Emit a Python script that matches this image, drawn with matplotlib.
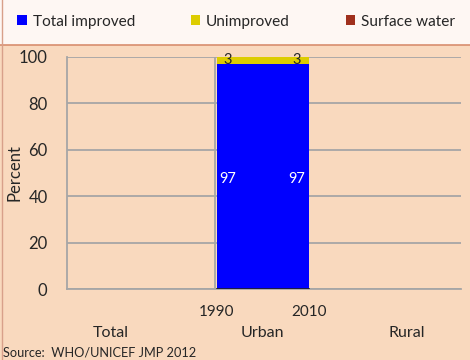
import numpy as np
import matplotlib.pyplot as plt
from matplotlib.patches import Rectangle
from matplotlib.lines import Line2D
import matplotlib.transforms as mtransforms

plt.rcParams['font.family'] = ['Lato', 'DejaVu Sans']

# data
groups = ['Total', 'Urban', 'Rural']
years = ['1990', '2010']
improved = [97, 97]      # Urban only
unimproved = [3, 3]
surface = [0, 0]
source = 'Source:  WHO/UNICEF JMP 2012'

c_imp = '#0000FF'
c_unimp = '#DDCC00'
c_surf = '#A0301C'
bg = '#F9D9BE'
grid_c = '#A6A6A6'
txt = '#262626'

fig = plt.figure(figsize=(4.7, 3.6), dpi=100)
fig.patch.set_facecolor(bg)

# top band with legend
fig.patches.append(Rectangle((0, 0.875), 1, 0.125, transform=fig.transFigure,
                             facecolor='#FEF7F3', edgecolor='none', zorder=0))
fig.lines.append(Line2D([0, 1], [0.875, 0.875], transform=fig.transFigure,
                        color='#D88E6E', lw=1.2))
fig.lines.append(Line2D([0.005, 0.005], [0, 1], transform=fig.transFigure,
                        color='#D8A08A', lw=1.0))

ax = fig.add_axes([0.1426, 0.1972, 0.981 - 0.1426, 0.8417 - 0.1972])
ax.set_facecolor(bg)

w = 0.35
xpos = np.array([1.5 - w / 2, 1.5 + w / 2]) - 0.01
b1 = ax.bar(xpos, improved, width=w, color=c_imp, zorder=3, label='Total improved')
b2 = ax.bar(xpos, unimproved, bottom=improved, width=w, color=c_unimp, zorder=3,
            label='Unimproved')
bottoms = np.array(improved) + np.array(unimproved)
b3 = ax.bar(xpos, surface, bottom=bottoms, width=w, color=c_surf, zorder=3,
            label='Surface water')

# value labels
offs = [-0.09, 0.08]
for i in range(2):
    ax.text(xpos[i] + offs[i], improved[i] / 2 - 1, str(improved[i]), color='white',
            ha='center', va='center', fontsize=10.5, zorder=4)
    ax.text(xpos[i] + offs[i], improved[i] + unimproved[i] / 2, str(unimproved[i]),
            color=txt, ha='center', va='center', fontsize=10.5, zorder=4)

ax.set_xlim(0, 3)
ax.set_ylim(0, 100)
ax.set_yticks(range(0, 101, 20))
ax.grid(axis='y', color=grid_c, lw=1.3, zorder=1)
ax.axvline(1.13, color=grid_c, lw=1.3, zorder=1)
ax.axhline(0, color='#222222', lw=1.2, xmin=(xpos[0] - w / 2) / 3,
           xmax=(xpos[1] + w / 2) / 3, zorder=4)

for s in ['top', 'right']:
    ax.spines[s].set_visible(False)
ax.spines['left'].set_color(grid_c)
ax.spines['left'].set_linewidth(1.3)
ax.spines['bottom'].set_color(grid_c)
ax.spines['bottom'].set_linewidth(1.3)
ax.tick_params(axis='y', length=0, pad=14, labelsize=12, labelcolor=txt)
ax.tick_params(axis='x', length=0, labelbottom=False)

trans = mtransforms.blended_transform_factory(ax.transData, ax.transAxes)
ax.text(xpos[0] - w / 2, -0.1, years[0], transform=trans, ha='center', va='center',
        fontsize=11, color=txt)
ax.text(xpos[1] + w / 2, -0.1, years[1], transform=trans, ha='center', va='center',
        fontsize=11, color=txt)
for gx, g in zip([0.33, 1.49, 2.59], groups):
    ax.text(gx, -0.19, g, transform=trans, ha='center', va='center',
            fontsize=11.5, color=txt)

ax.set_ylabel('Percent', fontsize=12, color=txt)
ax.yaxis.set_label_coords(-0.112, 0.5)

fig.legend(handles=[b1, b2, b3], loc='center left', bbox_to_anchor=(0.036, 0.94),
           ncol=3, frameon=False, fontsize=11.1, handlelength=0.64, handleheight=0.64,
           handletextpad=0.38, columnspacing=3.6, labelcolor=txt,
           borderaxespad=0, borderpad=0)

fig.text(0.006, 0.022, source, fontsize=9.2, color=txt, ha='left', va='center')

fig.savefig('out.png', dpi=100, facecolor=fig.get_facecolor())
